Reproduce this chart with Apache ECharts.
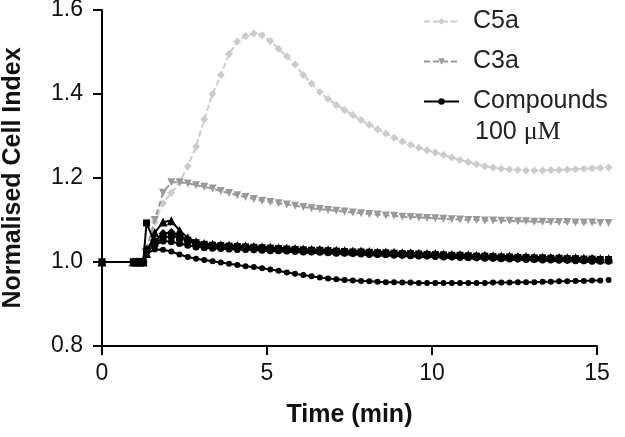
<!DOCTYPE html>
<html><head><meta charset="utf-8">
<script src="https://cdn.jsdelivr.net/npm/echarts@6/dist/echarts.min.js"></script>
<style>html,body{margin:0;padding:0;background:#fff}#c{width:625px;height:437px}</style>
</head><body><div id="c"></div>
<script>
const times = [0, 0.95, 1.05, 1.15, 1.25, 1.35, 1.6, 1.85, 2.1, 2.35, 2.6, 2.85, 3.1, 3.35, 3.6, 3.85, 4.1, 4.35, 4.6, 4.85, 5.1, 5.35, 5.6, 5.85, 6.1, 6.35, 6.6, 6.85, 7.1, 7.35, 7.6, 7.85, 8.1, 8.35, 8.6, 8.85, 9.1, 9.35, 9.6, 9.85, 10.1, 10.35, 10.6, 10.85, 11.1, 11.35, 11.6, 11.85, 12.1, 12.35, 12.6, 12.85, 13.1, 13.35, 13.6, 13.85, 14.1, 14.35, 14.6, 14.85, 15.1, 15.35];

const c5a = [1.0, 1.0, 1.0, 1.0, 1.0, 1.03, 1.095, 1.14, 1.165, 1.19, 1.228, 1.275, 1.34, 1.40, 1.445, 1.495, 1.525, 1.538, 1.544, 1.540, 1.526, 1.508, 1.49, 1.47, 1.445, 1.425, 1.405, 1.388, 1.374, 1.362, 1.35, 1.338, 1.327, 1.316, 1.306, 1.296, 1.287, 1.279, 1.272, 1.266, 1.261, 1.255, 1.249, 1.243, 1.238, 1.233, 1.228, 1.225, 1.222, 1.220, 1.219, 1.218, 1.218, 1.218, 1.219, 1.219, 1.220, 1.221, 1.222, 1.223, 1.224, 1.225];

const c3a = [1.0, 1.0, 1.0, 1.0, 1.0, 1.03, 1.10, 1.165, 1.19, 1.19, 1.187, 1.183, 1.179, 1.175, 1.169, 1.164, 1.159, 1.155, 1.15, 1.146, 1.143, 1.14, 1.137, 1.134, 1.131, 1.128, 1.126, 1.124, 1.122, 1.12, 1.118, 1.116, 1.114, 1.113, 1.111, 1.110, 1.108, 1.107, 1.106, 1.105, 1.104, 1.103, 1.102, 1.101, 1.100, 1.100, 1.099, 1.099, 1.098, 1.098, 1.097, 1.097, 1.096, 1.096, 1.095, 1.095, 1.095, 1.094, 1.094, 1.094, 1.093, 1.093];

const compTri = [1.0, 1.0, 1.0, 1.0, 1.0, 1.02, 1.07, 1.095, 1.098, 1.075, 1.058, 1.048, 1.044, 1.042, 1.041, 1.040, 1.039, 1.038, 1.037, 1.036, 1.035, 1.034, 1.033, 1.032, 1.031, 1.030, 1.030, 1.029, 1.028, 1.027, 1.026, 1.026, 1.025, 1.024, 1.024, 1.023, 1.022, 1.022, 1.021, 1.020, 1.020, 1.019, 1.018, 1.018, 1.017, 1.016, 1.016, 1.015, 1.014, 1.014, 1.013, 1.013, 1.012, 1.012, 1.011, 1.011, 1.010, 1.010, 1.009, 1.009, 1.008, 1.008];

const compSq = [1.0, 1.0, 1.0, 1.0, 1.0, 1.093, 1.045, 1.058, 1.062, 1.058, 1.052, 1.046, 1.042, 1.040, 1.039, 1.038, 1.037, 1.036, 1.035, 1.034, 1.033, 1.032, 1.031, 1.030, 1.029, 1.028, 1.028, 1.027, 1.026, 1.025, 1.024, 1.024, 1.023, 1.022, 1.022, 1.021, 1.020, 1.020, 1.019, 1.018, 1.018, 1.017, 1.016, 1.016, 1.015, 1.014, 1.014, 1.013, 1.012, 1.012, 1.011, 1.011, 1.010, 1.010, 1.009, 1.009, 1.008, 1.008, 1.007, 1.007, 1.006, 1.006];

const compDia = [1.0, 1.0, 1.0, 1.0, 1.0, 1.03, 1.05, 1.068, 1.07, 1.062, 1.052, 1.044, 1.040, 1.038, 1.037, 1.036, 1.035, 1.034, 1.033, 1.032, 1.031, 1.030, 1.029, 1.028, 1.027, 1.026, 1.026, 1.025, 1.024, 1.023, 1.022, 1.022, 1.021, 1.020, 1.020, 1.019, 1.018, 1.018, 1.017, 1.016, 1.016, 1.015, 1.014, 1.014, 1.013, 1.012, 1.012, 1.011, 1.010, 1.010, 1.009, 1.009, 1.008, 1.008, 1.007, 1.007, 1.006, 1.006, 1.005, 1.005, 1.004, 1.004];

const compDot = [1.0, 1.0, 1.0, 1.0, 1.0, 1.025, 1.04, 1.05, 1.048, 1.044, 1.040, 1.036, 1.034, 1.033, 1.032, 1.031, 1.030, 1.030, 1.029, 1.028, 1.027, 1.027, 1.026, 1.025, 1.024, 1.024, 1.023, 1.022, 1.021, 1.021, 1.020, 1.019, 1.018, 1.018, 1.017, 1.016, 1.016, 1.015, 1.014, 1.014, 1.013, 1.012, 1.012, 1.011, 1.010, 1.010, 1.009, 1.009, 1.008, 1.007, 1.007, 1.006, 1.006, 1.005, 1.005, 1.004, 1.004, 1.003, 1.003, 1.002, 1.002, 1.002];

const compLow = [1.0, 1.0, 1.0, 1.0, 1.0, 1.02, 1.03, 1.029, 1.025, 1.018, 1.012, 1.008, 1.005, 1.002, 0.999, 0.996, 0.993, 0.990, 0.988, 0.985, 0.982, 0.979, 0.975, 0.972, 0.969, 0.966, 0.963, 0.961, 0.959, 0.957, 0.956, 0.955, 0.954, 0.953, 0.952, 0.952, 0.951, 0.951, 0.950, 0.950, 0.950, 0.950, 0.950, 0.950, 0.950, 0.950, 0.950, 0.951, 0.951, 0.951, 0.952, 0.952, 0.952, 0.953, 0.953, 0.954, 0.954, 0.955, 0.955, 0.956, 0.956, 0.957];

const xTicks = [0, 5, 10, 15];
const yTicks = [0.8, 1.0, 1.2, 1.4, 1.6];
const legendNames = ['C5a', 'C3a', 'Compounds'];

function pairs(vals) { return times.map((t, i) => [t, vals[i]]); }

const chart = echarts.init(document.getElementById('c'), null, {renderer: 'canvas'});
const FONT = 'Liberation Sans, Arial, sans-serif';

function blackSeries(name, vals, symbol, size) {
  return {
    name: name, type: 'line', data: pairs(vals), clip: false,
    symbol: symbol, symbolSize: size,
    lineStyle: {color: '#000', width: 2},
    itemStyle: {color: '#000'}, z: 5
  };
}

chart.setOption({
  animation: false,
  backgroundColor: '#fff',
  grid: {left: 102, right: 28, top: 10, bottom: 91, containLabel: false, outerBoundsMode: 'none'},
  legend: {
    data: legendNames, orient: 'vertical', left: 418, top: 4,
    itemWidth: 35, itemHeight: 8, itemGap: 15,
    textStyle: {fontFamily: FONT, fontSize: 25, color: '#222', lineHeight: 25, padding: [0, 0, 0, 9]},
    selectedMode: false
  },
  graphic: [{
    type: 'text', left: 475, top: 119,
    style: {
      text: '100 {u|μM}',
      font: '25px Liberation Sans, Arial, sans-serif', fill: '#222',
      rich: {u: {fontFamily: 'Liberation Serif, Times New Roman, serif', fontSize: 26, fill: '#222'}}
    }
  }],
  xAxis: {
    type: 'value', min: xTicks[0], max: xTicks[xTicks.length - 1], interval: 5,
    name: 'Time (min)', nameLocation: 'middle', nameGap: 57,
    nameTextStyle: {fontFamily: FONT, fontSize: 25, fontWeight: 'bold', color: '#111'},
    axisLine: {lineStyle: {color: '#000', width: 2}},
    axisTick: {length: 9, lineStyle: {color: '#000', width: 2}},
    axisLabel: {fontFamily: FONT, fontSize: 23, color: '#111', margin: 16},
    splitLine: {show: false}
  },
  yAxis: {
    type: 'value', min: yTicks[0], max: yTicks[yTicks.length - 1], interval: 0.2,
    name: 'Normalised Cell Index', nameLocation: 'middle', nameGap: 76,
    nameTextStyle: {fontFamily: FONT, fontSize: 25, fontWeight: 'bold', color: '#111'},
    axisLine: {show: true, lineStyle: {color: '#000', width: 2}},
    axisTick: {show: true, length: 9, lineStyle: {color: '#000', width: 2}},
    axisLabel: {fontFamily: FONT, fontSize: 23, color: '#111', margin: 19, formatter: v => v.toFixed(1)},
    splitLine: {show: false}
  },
  series: [
    {
      name: 'C5a', type: 'line', data: pairs(c5a), clip: false,
      symbol: 'diamond', symbolSize: 8,
      lineStyle: {color: '#cccccc', width: 2, type: [6, 3]},
      itemStyle: {color: '#cccccc'}, z: 2
    },
    {
      name: 'C3a', type: 'line', data: pairs(c3a), clip: false,
      symbol: 'triangle', symbolRotate: 180, symbolSize: 8,
      lineStyle: {color: '#999999', width: 2, type: [6, 3]},
      itemStyle: {color: '#999999'}, z: 3
    },
    blackSeries('Compounds A', compTri, 'triangle', 9),
    blackSeries('Compounds B', compSq, 'rect', 7),
    blackSeries('Compounds C', compDia, 'diamond', 9),
    blackSeries('Compounds D', compDot, 'circle', 7),
    blackSeries('Compounds', compLow, 'circle', 6)
  ]
});
</script></body></html>
